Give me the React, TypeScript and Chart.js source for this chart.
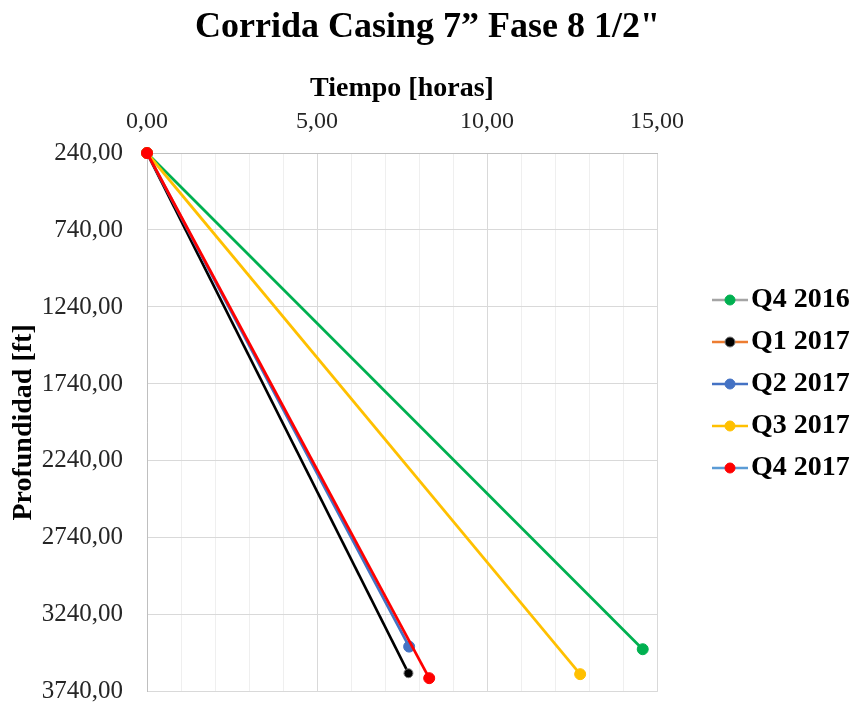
import { useEffect, useRef } from 'react';
import { Chart, registerables } from 'chart.js';

Chart.register(...registerables);

const FONT = "'Liberation Serif', 'Times New Roman', serif";

const chartTitle = 'Corrida Casing 7\u201D Fase 8 1/2"';
const xAxisTitle = 'Tiempo [horas]';
const yAxisTitle = 'Profundidad [ft]';

// Series: each run goes from its start point to its final depth
const seriesNames = ['Q4 2016', 'Q1 2017', 'Q2 2017', 'Q3 2017', 'Q4 2017'];
const startTimes = [0, 0, 0, 0, 0];
const startDepths = [240, 240, 240, 240, 240];
const endTimes = [14.58, 7.69, 7.71, 12.74, 8.3];
const endDepths = [3463, 3619, 3446, 3625, 3651];

// Axis ticks
const xTicks = [0, 1, 2, 3, 4, 5, 6, 7, 8, 9, 10, 11, 12, 13, 14, 15];
const xLabelEvery = 5;
const yTicks = [240, 740, 1240, 1740, 2240, 2740, 3240, 3740];

// Colours
const lineColors = ['#00b050', '#000000', '#4472c4', '#ffc000', '#ff0000'];
const markerColors = ['#00b050', '#000000', '#4472c4', '#ffc000', '#ff0000'];
const markerBorders = ['#00b050', '#7f7f7f', '#4472c4', '#ffc000', '#ff0000'];
const legendLineColors = ['#a5a5a5', '#ed7d31', '#4472c4', '#ffc000', '#5b9bd5'];

const fmt = (v: number) => v.toFixed(2).replace('.', ',');

function makeLegendIcon(lineColor: string, dotColor: string, dotBorder: string) {
  const c = document.createElement('canvas');
  c.width = 88;
  c.height = 14;
  const g = c.getContext('2d')!;
  g.strokeStyle = lineColor;
  g.lineWidth = 2.5;
  g.beginPath();
  g.moveTo(52, 7);
  g.lineTo(88, 7);
  g.stroke();
  g.fillStyle = dotColor;
  g.strokeStyle = dotBorder;
  g.lineWidth = 1;
  g.beginPath();
  g.arc(70, 7, 5, 0, Math.PI * 2);
  g.fill();
  g.stroke();
  return c;
}

export default function App() {
  const canvasRef = useRef<HTMLCanvasElement | null>(null);

  useEffect(() => {
    if (!canvasRef.current) return;
    const icons = seriesNames.map((_, i) =>
      makeLegendIcon(legendLineColors[i], markerColors[i], markerBorders[i])
    );

    const datasets = seriesNames.map((name, i) => ({
      label: name,
      data: [
        { x: startTimes[i], y: startDepths[i] },
        { x: endTimes[i], y: endDepths[i] },
      ],
      showLine: true,
      order: seriesNames.length - 1 - i,
      borderColor: lineColors[i],
      backgroundColor: markerColors[i],
      borderWidth: 2.75,
      pointRadius: i === 1 ? 4.5 : 5.5,
      pointBackgroundColor: markerColors[i],
      pointBorderColor: markerBorders[i],
      pointBorderWidth: 1,
      clip: false as any,
    }));

    const chart = new Chart(canvasRef.current, {
      type: 'scatter',
      data: { datasets },
      options: {
        responsive: false,
        animation: false,
        layout: { padding: 0 },
        plugins: {
          title: {
            display: true,
            text: chartTitle,
            color: '#000000',
            font: { family: FONT, size: 36, weight: 'bold' },
            padding: { top: 6, bottom: 0 },
          },
          legend: {
            position: 'right',
            align: 'center',
            maxWidth: 198,
            title: {
              display: true,
              text: '',
              padding: { top: 53, bottom: 0 },
              font: { size: 10, lineHeight: 1 },
            },
            labels: {
              usePointStyle: true,
              pointStyleWidth: 66,
              padding: 14,
              color: '#000000',
              font: { family: FONT, size: 28, weight: 'bold' },
              generateLabels: (c: any) =>
                c.data.datasets.map((ds: any, i: number) => ({
                  text: ds.label,
                  pointStyle: icons[i],
                  datasetIndex: i,
                  hidden: false,
                  lineWidth: 0,
                  strokeStyle: 'rgba(0,0,0,0)',
                  fillStyle: 'rgba(0,0,0,0)',
                  fontColor: '#000000',
                })),
            },
          },
          tooltip: { enabled: false },
        },
        scales: {
          x: {
            type: 'linear',
            position: 'top',
            min: 0,
            max: 15,
            afterBuildTicks: (s: any) => {
              s.ticks = xTicks.map((v) => ({ value: v }));
            },
            afterFit: (s: any) => {
              s.height = 103.8;
            },
            ticks: {
              autoSkip: false,
              maxRotation: 0,
              padding: 17,
              color: '#262626',
              font: { family: FONT, size: 24 },
              callback: (v: any) => (Number(v) % xLabelEvery === 0 ? fmt(Number(v)) : ''),
            },
            grid: {
              drawTicks: false,
              lineWidth: 1,
              color: (ctx: any) =>
                ctx.tick && ctx.tick.value % xLabelEvery === 0 ? '#d9d9d9' : '#efefef',
            },
            border: { color: '#bfbfbf', width: 1 },
            title: {
              display: true,
              text: xAxisTitle,
              color: '#000000',
              font: { family: FONT, size: 28, weight: 'bold' },
              padding: { top: 22.5, bottom: 0 },
            },
          },
          y: {
            type: 'linear',
            reverse: true,
            min: 240,
            max: 3740,
            afterBuildTicks: (s: any) => {
              s.ticks = yTicks.map((v) => ({ value: v }));
            },
            afterFit: (s: any) => {
              s.width = 147;
            },
            ticks: {
              padding: 0,
              color: '#262626',
              font: { family: FONT, size: 25, lineHeight: 1.05 },
              callback: (v: any) => fmt(Number(v)),
            },
            grid: {
              drawTicks: true,
              tickLength: 24,
              tickColor: 'rgba(0,0,0,0)',
              lineWidth: 1,
              color: '#d9d9d9',
            },
            border: { color: '#bfbfbf', width: 1 },
            title: {
              display: true,
              text: yAxisTitle,
              color: '#000000',
              font: { family: FONT, size: 28, weight: 'bold' },
              padding: { top: 7, bottom: 0 },
            },
          },
        },
      } as any,
    });

    return () => chart.destroy();
  }, []);

  return (
    <div style={{ position: 'absolute', left: 0, top: 0, width: 855, height: 705, background: '#ffffff' }}>
      <canvas ref={canvasRef} width={855} height={705} />
    </div>
  );
}
